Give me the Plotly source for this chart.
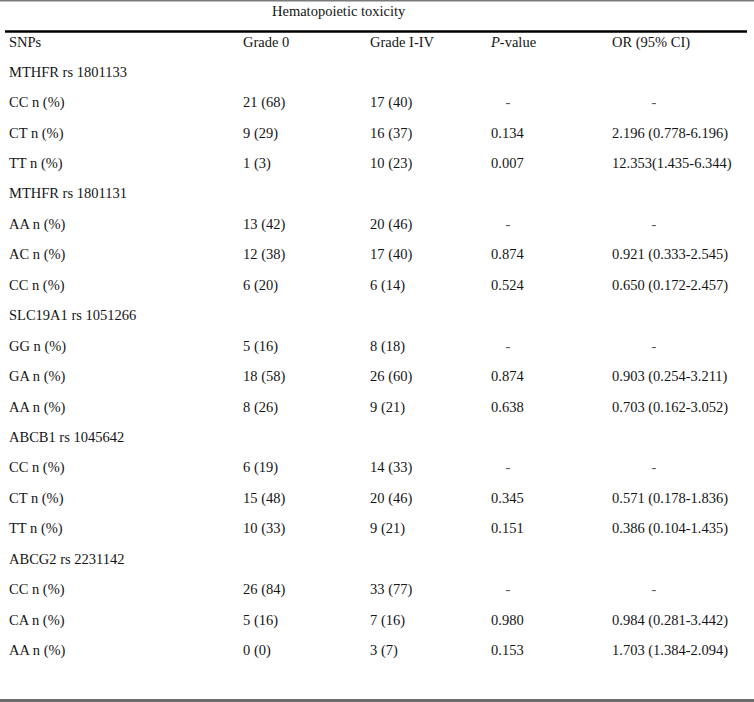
import plotly.graph_objects as go

title = "Hematopoietic toxicity"
headers = ["SNPs", "Grade 0", "Grade I-IV", "<i>P</i>-value", "OR (95% CI)"]

snps = ["MTHFR rs 1801133", "CC n (%)", "CT n (%)", "TT n (%)",
        "MTHFR rs 1801131", "AA n (%)", "AC n (%)", "CC n (%)",
        "SLC19A1 rs 1051266", "GG n (%)", "GA n (%)", "AA n (%)",
        "ABCB1 rs 1045642", "CC n (%)", "CT n (%)", "TT n (%)",
        "ABCG2 rs 2231142", "CC n (%)", "CA n (%)", "AA n (%)"]
grade0 = ["", "21 (68)", "9 (29)", "1 (3)",
          "", "13 (42)", "12 (38)", "6 (20)",
          "", "5 (16)", "18 (58)", "8 (26)",
          "", "6 (19)", "15 (48)", "10 (33)",
          "", "26 (84)", "5 (16)", "0 (0)"]
grade14 = ["", "17 (40)", "16 (37)", "10 (23)",
           "", "20 (46)", "17 (40)", "6 (14)",
           "", "8 (18)", "26 (60)", "9 (21)",
           "", "14 (33)", "20 (46)", "9 (21)",
           "", "33 (77)", "7 (16)", "3 (7)"]
pvals = ["", "-", "0.134", "0.007",
         "", "-", "0.874", "0.524",
         "", "-", "0.874", "0.638",
         "", "-", "0.345", "0.151",
         "", "-", "0.980", "0.153"]
ors = ["", "-", "2.196 (0.778-6.196)", "12.353(1.435-6.344)",
       "", "-", "0.921 (0.333-2.545)", "0.650 (0.172-2.457)",
       "", "-", "0.903 (0.254-3.211)", "0.703 (0.162-3.052)",
       "", "-", "0.571 (0.178-1.836)", "0.386 (0.104-1.435)",
       "", "-", "0.984 (0.281-3.442)", "1.703 (1.384-2.094)"]

W, H = 754, 702
FONT = dict(family="Liberation Serif, DejaVu Serif, serif", size=14.5, color="#151515")
DASH_FONT = dict(family="Liberation Serif, DejaVu Serif, serif", size=14.5, color="#555555")
col_x = [9, 243, 370, 491, 612]
dash_x = [None, None, None, 508, 654]
row0_y = 73
row_h = 30.45
header_y = 43
title_y = 12

fig = go.Figure()

def add_text(xs, ys, texts, pos, font=FONT):
    fig.add_trace(go.Scatter(x=xs, y=ys, text=texts, mode="text",
                             textposition=pos, textfont=font,
                             hoverinfo="skip", showlegend=False))

# title
add_text([272], [title_y], [title], "middle right")
# header
add_text(col_x, [header_y] * 5, headers, "middle right")

columns = [snps, grade0, grade14, pvals, ors]
for ci, col in enumerate(columns):
    xs, ys, ts = [], [], []
    dxs, dys, dts = [], [], []
    for ri, val in enumerate(col):
        if val == "":
            continue
        y = row0_y + ri * row_h
        if val == "-" and dash_x[ci] is not None:
            dxs.append(dash_x[ci]); dys.append(y); dts.append(val)
        else:
            xs.append(col_x[ci]); ys.append(y); ts.append(val)
    add_text(xs, ys, ts, "middle right")
    if dts:
        add_text(dxs, dys, dts, "middle center", DASH_FONT)

shapes = [
    dict(type="line", x0=0, x1=W, y0=0.5, y1=0.5, line=dict(color="#7a7a7a", width=2)),
    dict(type="line", x0=5, x1=747, y0=31.5, y1=31.5, line=dict(color="#000000", width=2.5)),
    dict(type="line", x0=0, x1=W, y0=700.5, y1=700.5, line=dict(color="#6e6e6e", width=3)),
]

fig.update_layout(
    width=W, height=H,
    margin=dict(l=0, r=0, t=0, b=0),
    paper_bgcolor="white", plot_bgcolor="white",
    xaxis=dict(range=[0, W], visible=False, fixedrange=True),
    yaxis=dict(range=[H, 0], visible=False, fixedrange=True),
    shapes=shapes,
)

fig.write_html("out.html", config={"displayModeBar": False},
               post_script="document.body.style.margin='0px';document.body.style.overflow='hidden';")
